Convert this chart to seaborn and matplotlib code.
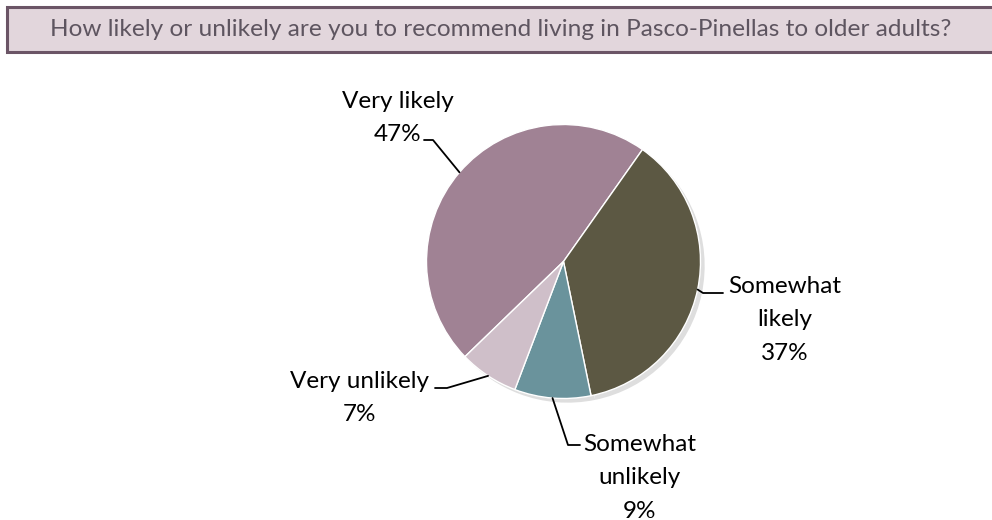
import matplotlib
matplotlib.use("Agg")
import numpy as np
import matplotlib.pyplot as plt
import seaborn as sns
from matplotlib.patches import Rectangle

# Data
categories = ["Very likely", "Somewhat likely", "Somewhat unlikely", "Very unlikely"]
shares = [47, 37, 9, 7]
label_texts = ["Very likely\n47%", "Somewhat\nlikely\n37%", "Somewhat\nunlikely\n9%", "Very unlikely\n7%"]
colors = ["#A08294", "#5C5843", "#6A939C", "#CFBFC9"]

TITLE = "How likely or unlikely are you to recommend living in Pasco-Pinellas to older adults?"

W, H = 992, 520


def px(x, y):
    """Pixel position (top-left origin) -> data coords of the full-figure axes."""
    return x, H - y


sns.set_theme(style="white")
plt.rcParams["font.family"] = ["Lato", "DejaVu Sans"]

fig = plt.figure(figsize=(W / 100, H / 100), dpi=100)
ax = fig.add_axes([0, 0, 1, 1])

# Title box
ax.add_patch(Rectangle(px(7, 52), 1010, 45, facecolor="#E2D6DC",
                       edgecolor="#6B5566", linewidth=2.2, zorder=1,
                       clip_on=False))
ax.text(*px(501, 30), TITLE, ha="center", va="center", fontsize=17.6,
        color="#5E5560", zorder=2)

# Pie
center = px(563.5, 261.5)
radius = 137
wedges, _ = ax.pie(shares, colors=colors, startangle=224, counterclock=False,
                   center=center, radius=radius,
                   wedgeprops=dict(edgecolor="white", linewidth=1.0),
                   shadow=dict(ox=3, oy=-3, facecolor="#dedede",
                               edgecolor="none", alpha=1.0))

# label placement: text centre, knee of the leader line, end of leader line
layout = [
    dict(text=px(398, 118), knee=px(433, 140), end=px(424, 140)),
    dict(text=px(785, 320), knee=px(703, 293), end=px(723, 293)),
    dict(text=px(640, 478), knee=px(568, 445), end=px(580, 445)),
    dict(text=px(360, 398), knee=px(447, 388), end=px(435, 388)),
]

for wedge, txt, spec in zip(wedges, label_texts, layout):
    mid = np.deg2rad((wedge.theta1 + wedge.theta2) / 2)
    edge = (center[0] + radius * np.cos(mid), center[1] + radius * np.sin(mid))
    xs = [edge[0], spec["knee"][0], spec["end"][0]]
    ys = [edge[1], spec["knee"][1], spec["end"][1]]
    ax.plot(xs, ys, color="black", linewidth=1.3, zorder=5)
    ax.text(*spec["text"], txt, ha="center", va="center", fontsize=17.5,
            color="black", linespacing=1.72, zorder=5)

ax.set_xlim(0, W)
ax.set_ylim(0, H)
ax.set_aspect("equal")
ax.axis("off")

fig.savefig("out.png", dpi=100)
